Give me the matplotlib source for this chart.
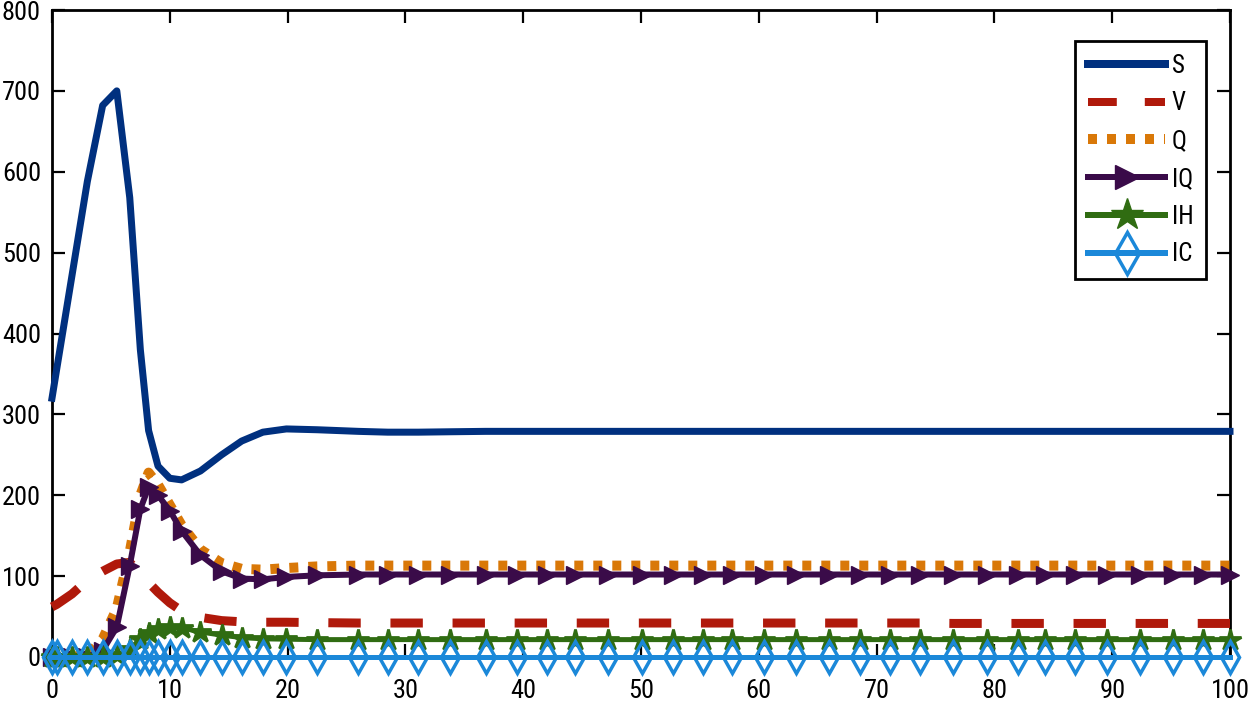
import matplotlib
matplotlib.use("Agg")
import matplotlib.pyplot as plt
from matplotlib.lines import Line2D
from matplotlib import font_manager

names = {f.name for f in font_manager.fontManager.ttflist}
fam = 'Liberation Sans'
for cand in ['Liberation Sans Narrow', 'Roboto Condensed', 'Open Sans Condensed',
             'Noto Sans Condensed', 'DejaVu Sans Condensed']:
    if cand in names:
        fam = cand
        break
plt.rcParams['font.family'] = [fam, 'DejaVu Sans']
narrow = fam != 'Liberation Sans'

t = [0, 0.4, 1.7, 3.0, 4.3, 5.5, 6.6, 7.5, 8.2, 9.0, 10.0, 11.0, 12.6, 14.4, 16.1,
     17.9, 19.9, 22.5, 26.0, 28.5, 31.1, 33.8, 36.8, 39.5, 42.0, 44.4, 47.2, 50.1,
     52.7, 55.3, 57.7, 60.4, 63.2, 66.0, 68.6, 71.1, 73.7, 76.5, 79.4, 82.0, 84.3,
     86.8, 89.6, 92.4, 95.2, 97.7, 100]

S = [320, 356, 472, 588, 682, 700, 568, 380, 280, 236, 221, 219, 230, 250, 267,
     278, 282, 281, 279, 278, 278, 278.5, 279, 279, 279, 279, 279, 279,
     279, 279, 279, 279, 279, 279, 279, 279, 279, 279, 279, 279, 279,
     279, 279, 279, 279, 279, 279]

V = [62, 65, 78, 95, 106, 115, 117, 103, 92, 80, 67, 57, 49, 45, 43.5,
     43, 43, 42.5, 42, 42, 42, 42, 42, 42, 42, 42, 42, 42,
     42, 42, 42, 42, 42, 42, 42, 42, 42, 41.5, 41.5, 41.5, 41.5,
     41.5, 41.5, 41.5, 41.5, 41.5, 41.5]

Q = [0, 0, 0.5, 2, 22, 60, 130, 200, 228, 213, 188, 163, 133, 116, 109,
     108, 110, 112, 113, 113, 113, 113, 113, 113, 113, 113, 113, 113,
     113, 113, 113, 113, 113, 113, 113, 113, 113, 113, 113, 113, 113,
     113, 113, 113, 113, 113, 113]

IQ = [0, 0, 0, 0.5, 8, 37, 113, 183, 210, 200, 181, 156, 126, 106, 97,
      96, 99, 101, 102, 102, 102, 102, 102, 102, 102, 102, 102, 102,
      102, 102, 102, 102, 102, 102, 102, 102, 102, 102, 102, 102, 102,
      102, 102, 102, 102, 102, 102]

IH = [0, 0, 0, 0, 0.5, 2, 10, 22, 30, 35, 37, 36, 31, 27, 24,
      22.5, 22, 21.5, 21.5, 21.5, 21.5, 21.5, 21.5, 21.5, 21.5, 21.5, 21.5, 21.5,
      21.5, 21.5, 21.5, 21.5, 21.5, 21.5, 21.5, 21.5, 21.5, 21.5, 21.5, 21.5, 21.5,
      21.5, 21.5, 21.5, 21.5, 21.5, 21.5]

IC = [0] * len(t)

labels = ['S', 'V', 'Q', 'IQ', 'IH', 'IC']
xticks = [0, 10, 20, 30, 40, 50, 60, 70, 80, 90, 100]
yticks = [0, 100, 200, 300, 400, 500, 600, 700, 800]

c_S = '#00307f'
c_V = '#b0190b'
c_Q = '#d97808'
c_IQ = '#3a0b49'
c_IH = '#306c12'
c_IC = '#1b88d9'

fig = plt.figure(figsize=(12.5, 7.02), dpi=100)
ax = fig.add_axes([52/1250, 45/702, 1178/1250, 647/702])

px = 72/100  # points per pixel

ax.plot(t, S, color=c_S, lw=7*px, zorder=3, clip_on=False, label=labels[0])
ax.plot(t, V, color=c_V, lw=9*px, dashes=(3.6, 3.3), dash_capstyle='butt', zorder=3, clip_on=False, label=labels[1])
ax.plot(t, Q, color=c_Q, lw=10*px, dashes=(0.9, 1.0), dash_capstyle='butt', zorder=3, clip_on=False, label=labels[2])
ax.plot(t, IQ, color=c_IQ, lw=6*px, marker='>', ms=13, mfc=c_IQ, mec=c_IQ, zorder=3, clip_on=False, label=labels[3])
ax.plot(t, IH, color=c_IH, lw=5*px, marker='*', ms=16, mfc=c_IH, mec=c_IH, mew=2, zorder=3, clip_on=False, label=labels[4])
ax.plot(t, IC, color=c_IC, lw=5*px, marker='d', ms=16, mfc='none', mec=c_IC, mew=2.5, zorder=3, clip_on=False, label=labels[5])

ax.set_xlim(0, 100)
ax.set_ylim(0, 800)
ax.set_xticks(xticks)
ax.set_yticks(yticks)
tick_fs = 19 if narrow else 17
ax.tick_params(direction='in', length=9.5, width=1.6, top=True, right=True,
               labelsize=tick_fs, colors='black')
ax.tick_params(axis='x', pad=16)
ax.tick_params(axis='y', pad=8)
for sp in ax.spines.values():
    sp.set_linewidth(2.0)
    sp.set_zorder(2.5)

handles = [
    Line2D([], [], color=c_S, lw=8*px),
    Line2D([], [], color=c_V, lw=8*px, dashes=(3.6, 3.5), dash_capstyle='butt'),
    Line2D([], [], color=c_Q, lw=10*px, dashes=(0.9, 1.0), dash_capstyle='butt'),
    Line2D([], [], color=c_IQ, lw=6*px, marker='>', ms=17, mfc=c_IQ, mec=c_IQ, markevery=[1]),
    Line2D([], [], color=c_IH, lw=6*px, marker='*', ms=24, mfc=c_IH, mec=c_IH, markevery=[1]),
    Line2D([], [], color=c_IC, lw=6*px, marker='d', ms=21, mfc='none', mec=c_IC, mew=2.5, markevery=[1]),
]
leg = ax.legend(handles, labels, loc='upper right', bbox_to_anchor=(0.9796, 0.952),
                borderaxespad=0, fontsize=18 if narrow else 16, handlelength=3.1,
                labelspacing=0.55 if narrow else 0.75,
                handletextpad=0.25, borderpad=0.5, fancybox=False, framealpha=1,
                edgecolor='black')
leg.get_frame().set_linewidth(2.0)

fig.savefig('out.png', dpi=100)
